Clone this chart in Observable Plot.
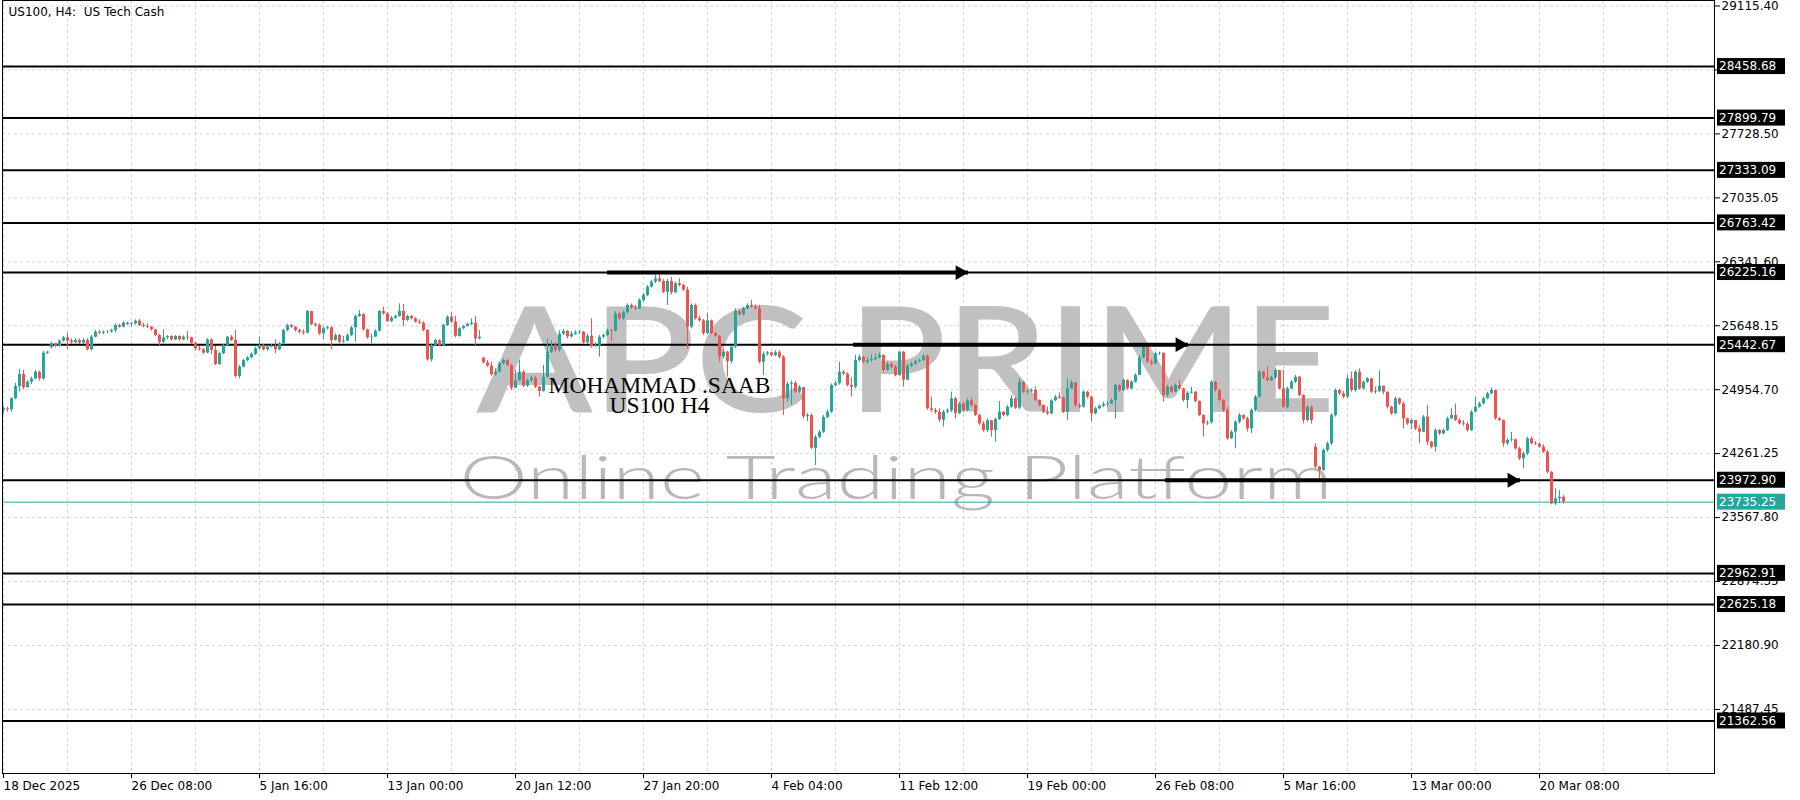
<!DOCTYPE html>
<html><head><meta charset="utf-8">
<script src="https://cdn.jsdelivr.net/npm/d3@7"></script>
<script src="https://cdn.jsdelivr.net/npm/@observablehq/plot@0.6"></script>
<style>
html,body{margin:0;padding:0;background:#fff;}
#chart{width:1800px;height:800px;}
</style></head><body><div id="chart"></div>
<script>
const title = "US100, H4:  US Tech Cash";

// H4 bars, index 0 = 18 Dec 2025 00:00
const closes = [
24747,24736,24856,24989,25120,24975,25036,25072,25145,25072,
25351,25362,25452,25423,25481,25517,25481,25463,25488,25459,
25488,25387,25524,25579,25568,25579,25582,25597,25651,25633,
25676,25662,25669,25698,25651,25640,25633,25604,25542,25470,
25517,25532,25495,25532,25495,25524,25517,25459,25398,25387,
25351,25495,25380,25228,25344,25434,25524,25488,25098,25199,
25271,25300,25337,25398,25434,25387,25416,25423,25387,25452,
25597,25651,25633,25597,25579,25568,25803,25662,25651,25560,
25615,25626,25488,25542,25470,25481,25542,25626,25749,25770,
25604,25517,25524,25590,25803,25777,25694,25730,25749,25803,
25705,25749,25723,25687,25676,25597,25279,25434,25488,25434,
25651,25741,25687,25532,25615,25640,25662,25676,25506,25524,
25246,25210,25116,25145,25235,25271,25217,24971,25051,25145,
24993,25051,25080,24982,24935,25090,25362,25434,25384,25557,
25586,25528,25557,25571,25579,25463,25535,25420,25434,25524,
25542,25593,25586,25774,25723,25788,25868,25843,25832,25922,
25976,26067,26121,26157,26128,26012,26128,26005,26103,26085,
26034,25633,25868,25723,25701,25564,25701,25564,25535,25311,
25362,25260,25416,25803,25767,25832,25868,25850,25832,25253,
25340,25355,25326,25355,25307,24856,25014,25025,24928,24978,
24661,24675,24320,24436,24494,24653,24711,25000,25022,25145,
25123,25000,24982,25271,25307,25253,25271,25282,25297,25326,
25163,25231,25199,25109,25362,25058,25210,25231,25260,25271,
25318,24747,24729,24711,24624,24711,24725,24856,24697,24798,
24729,24834,24783,24675,24584,24512,24617,24512,24632,24711,
24675,24765,24856,24754,25036,24928,24935,24946,24837,24783,
24711,24693,24834,24874,24863,24711,24964,25029,24783,24765,
24928,24874,24693,24747,24776,24794,24801,24837,25000,24946,
25054,24964,25036,25109,25300,25416,25253,25235,25344,25351,
24892,24982,24928,25000,24964,24837,24917,24928,24827,24675,
24584,24595,25036,24946,24837,24729,24422,24494,24603,24675,
24639,24530,24729,24874,25145,25083,25054,25083,25163,24964,
24765,24964,25036,25090,24892,24621,24765,24621,24115,24078,
24295,24368,24675,24946,24910,24874,25072,24946,25145,24964,
25036,25072,24928,24935,24993,24928,24765,24693,24856,24801,
24639,24584,24621,24530,24494,24657,24386,24331,24512,24476,
24512,24639,24675,24621,24584,24577,24512,24711,24765,24801,
24856,24910,24946,24639,24621,24368,24404,24411,24313,24205,
24259,24422,24368,24361,24331,24277,24060,23717,23771,23789,23735.25
];
const highs = [
24772,24765,24867,25025,25174,25163,25054,25090,25163,25156,
25369,25373,25470,25459,25495,25531,25568,25506,25506,25503,
25506,25506,25542,25597,25597,25590,25597,25611,25669,25665,
25694,25687,25683,25712,25720,25676,25669,25640,25611,25553,
25604,25542,25539,25542,25539,25539,25586,25524,25467,25423,
25402,25510,25506,25423,25362,25445,25532,25542,25597,25217,
25285,25315,25351,25416,25524,25445,25431,25445,25495,25467,
25611,25665,25662,25640,25611,25604,25814,25807,25676,25669,
25633,25640,25640,25560,25553,25532,25560,25640,25763,25814,
25777,25611,25553,25604,25814,25850,25792,25749,25763,25886,
25879,25763,25759,25734,25712,25691,25604,25452,25503,25495,
25665,25756,25796,25749,25629,25651,25676,25723,25749,25597,
25307,25271,25253,25181,25253,25289,25282,25231,25163,25271,
25160,25072,25101,25101,24993,25217,25506,25488,25463,25593,
25608,25597,25586,25593,25597,25586,25557,25723,25463,25542,
25557,25615,25608,25803,25796,25810,25886,25883,25868,25940,
25998,26085,26142,26200,26200,26150,26150,26171,26121,26157,
26099,26067,25886,25883,25752,25716,25777,25712,25579,25542,
25391,25369,25434,25832,25814,25850,25886,25922,25875,25868,
25362,25369,25362,25377,25380,25326,25036,25050,25043,25000,
24978,24697,24690,24458,24512,24675,24733,25018,25043,25253,
25163,25138,25080,25326,25333,25318,25304,25333,25340,25351,
25333,25253,25246,25217,25369,25369,25231,25253,25275,25289,
25333,25333,24874,24754,24747,24729,24747,24928,24874,24819,
24812,24856,24863,24790,24693,24610,24639,24624,24646,24827,
24718,24783,24892,24870,25072,25043,24957,24964,24982,24845,
24790,24765,24849,24892,24921,24878,25072,25050,25036,24801,
24942,24935,24885,24765,24790,24819,24827,24856,25018,25007,
25072,25061,25054,25127,25326,25434,25380,25279,25362,25362,
25351,25000,24993,25018,25054,24971,24935,24982,24935,24834,
24682,24617,25054,25043,24957,24848,24765,24512,24621,24693,
24682,24657,24747,24892,25163,25152,25206,25101,25181,25145,
25163,24982,25054,25109,25101,24899,24783,24776,24368,24125,
24313,24386,24693,24964,24957,24935,25109,25145,25163,25181,
25050,25087,25080,24982,25160,24993,24928,24776,24874,24863,
24819,24646,24639,24584,24566,24675,24783,24393,24530,24523,
24530,24657,24747,24801,24639,24621,24603,24729,24874,24819,
24874,24928,24975,24953,24657,24628,24422,24494,24422,24331,
24277,24440,24440,24393,24379,24357,24295,24067,23880,23861,23807
];
const lows = [
24693,24711,24711,24845,24928,24953,24982,25011,25061,25047,
25054,25337,25398,25409,25416,25470,25387,25445,25452,25445,
25445,25373,25373,25517,25550,25550,25564,25568,25568,25622,
25626,25651,25633,25655,25640,25626,25618,25590,25532,25434,
25452,25495,25481,25488,25481,25488,25488,25445,25373,25373,
25337,25344,25337,25217,25217,25337,25423,25474,25083,25072,
25192,25257,25289,25326,25387,25373,25373,25409,25344,25380,
25438,25582,25618,25582,25560,25546,25560,25647,25633,25542,
25495,25604,25387,25481,25452,25459,25474,25532,25470,25741,
25590,25503,25452,25528,25579,25763,25683,25683,25720,25741,
25640,25694,25712,25676,25662,25582,25264,25253,25423,25423,
25423,25640,25676,25517,25524,25604,25633,25651,25434,25495,
25235,25196,25101,25101,25138,25224,25203,24946,24964,25043,
24978,24982,25036,24964,24874,24928,25080,25348,25362,25362,
25542,25506,25513,25542,25550,25448,25448,25405,25413,25307,
25506,25528,25477,25579,25709,25705,25777,25825,25814,25825,
25904,25962,26056,26106,26114,25998,25868,25983,25994,26070,
26020,25398,25615,25709,25687,25542,25550,25550,25521,25253,
25289,25090,25235,25398,25752,25752,25817,25839,25817,25235,
25109,25318,25311,25311,25289,24675,24819,24790,24914,24914,
24639,24610,24306,24133,24422,24480,24639,24697,24986,25004,
25109,24986,24874,24964,25253,25235,25231,25253,25268,25289,
25145,25156,25181,25094,25101,24982,25051,25192,25217,25246,
25260,24733,24711,24689,24603,24548,24693,24704,24639,24682,
24711,24718,24765,24661,24566,24494,24494,24440,24386,24621,
24661,24661,24754,24740,24740,24914,24899,24921,24827,24769,
24697,24675,24682,24827,24849,24697,24621,24957,24765,24747,
24754,24856,24603,24682,24740,24762,24765,24801,24639,24928,
24935,24950,24957,25025,25163,25289,25238,25217,25224,25326,
24819,24874,24914,24921,24950,24819,24747,24906,24812,24661,
24440,24566,24581,24928,24819,24711,24404,24415,24313,24584,
24624,24494,24476,24711,24863,25065,25043,25043,25065,24950,
24754,24747,24950,25022,24878,24584,24603,24584,24096,23988,
24071,24277,24350,24657,24892,24856,24856,24928,24928,24950,
24950,25022,24914,24906,24921,24899,24747,24675,24682,24783,
24530,24566,24523,24512,24368,24487,24350,24313,24277,24458,
24465,24501,24632,24610,24573,24559,24494,24501,24704,24754,
24790,24845,24899,24624,24610,24331,24350,24386,24299,24187,
24096,24241,24357,24350,24321,24263,24042,23706,23699,23717,23713
];
const firstOpen = 24729;
// opens after a market gap (bar index, open)
const gapOpens = [[12, 25409], [120, 25297], [328, 24331]];

const dateTicks = [0, 32, 64, 96, 128, 160, 192, 224, 256, 288, 320, 352, 384];
const dateLabels = ["18 Dec 2025", "26 Dec 08:00", "5 Jan 16:00", "13 Jan 00:00", "20 Jan 12:00", "27 Jan 20:00",
  "4 Feb 04:00", "11 Feb 12:00", "19 Feb 00:00", "26 Feb 08:00", "5 Mar 16:00", "13 Mar 00:00", "20 Mar 08:00"];
const priceTicks = [29115.40, 28421.95, 27728.50, 27035.05, 26341.60, 25648.15, 24954.70, 24261.25,
  23567.80, 22874.35, 22180.90, 21487.45];
const levels = [28458.68, 27899.79, 27333.09, 26763.42, 26225.16, 25442.67, 23972.90, 22962.91, 22625.18, 21362.56];
const lastPrice = 23735.25;

// drawn arrows: start bar, end bar, price level
const arrowFrom = [151, 212.5, 290.5];
const arrowTo = [241.25, 296.25, 379.25];
const arrowPrice = [26225.16, 25442.67, 23972.90];

const signatureText = "MOHAMMAD .SAAB\nUS100 H4";
const watermarkWords = ["APC", "PRIME"];
const watermarkSub = "Online Trading Platform";

// ---- build
const UP = "#26a69a", DOWN = "#ef5350";
const gapMap = new Map(gapOpens);
const bars = closes.map((c, i) => {
  const o = i === 0 ? firstOpen : (gapMap.has(i) ? gapMap.get(i) : closes[i - 1]);
  return {i, o, c, h: Math.max(highs[i], o, c), l: Math.min(lows[i], o, c), col: c >= o ? UP : DOWN};
});
const arrows = arrowFrom.map((f, k) => ({from: f, to: arrowTo[k], price: arrowPrice[k]}));

// annotation anchors (data space)
const wm = [
  {text: watermarkWords[0], bar: 159.6, price: 25215, len: 331},
  {text: watermarkWords[1], bar: 272.1, price: 25215, len: 487}
];
const wmSub = [{text: watermarkSub, bar: 223.1, price: 23985, len: 873}];
const sig = [{text: signatureText, bar: 164, price: 24880}];

const plot = Plot.plot({
  width: 1800, height: 800,
  marginTop: 0, marginBottom: 27, marginLeft: 2, marginRight: 86,
  x: {domain: [-0.25, 427.75]},
  y: {domain: [20793, 29175]},
  color: {type: "identity"},
  style: {fontFamily: "DejaVu Sans", fontSize: "12px", background: "#ffffff", color: "#000000"},
  marks: [
    Plot.gridX(d3.range(0, 428, 16), {stroke: "#d4d4d4", strokeOpacity: 1, strokeDasharray: "3,3"}),
    Plot.gridY(priceTicks, {stroke: "#d4d4d4", strokeOpacity: 1, strokeDasharray: "3,3"}),
    Plot.text(wm, {x: "bar", y: "price", text: "text", fill: "#c0c0c0", fontSize: 146, fontFamily: "Lato",
      fontWeight: 600, textAnchor: "middle", lineAnchor: "middle", className: "wm-big"}),
    Plot.text(wmSub, {x: "bar", y: "price", text: "text", fill: "#b8b8b8", fontSize: 62, fontFamily: "Lato",
      fontWeight: 300, textAnchor: "middle", lineAnchor: "middle", className: "wm-sub"}),
    Plot.ruleY(levels, {stroke: "#000", strokeWidth: 2}),
    Plot.ruleY([lastPrice], {stroke: UP, strokeWidth: 1}),
    Plot.ruleX(bars, {x: "i", y1: "l", y2: "h", stroke: "col", strokeWidth: 1}),
    Plot.ruleX(bars, {x: "i", y1: "o", y2: "c", stroke: "col", strokeWidth: 3}),
    Plot.ruleY(arrows, {y: "price", x1: "from", x2: "to", stroke: "#000", strokeWidth: 4}),
    Plot.dot(arrows, {x: "to", y: "price", symbol: "triangle", r: 5.5, rotate: 90, fill: "#000", stroke: null, dx: -8.6}),
    Plot.text(sig, {x: "bar", y: "price", text: "text", fontFamily: "Liberation Serif", fontSize: 23.5,
      lineHeight: 0.87, fill: "#000", textAnchor: "middle", lineAnchor: "middle"}),
    Plot.text([title], {frameAnchor: "top-left", dx: 6, dy: 7, lineAnchor: "top", textAnchor: "start", fontSize: 12}),
    Plot.axisY(priceTicks, {anchor: "right", tickFormat: d => d.toFixed(2), tickSize: 5, tickPadding: 2, fontSize: 12, label: null}),
    Plot.axisX(dateTicks, {anchor: "bottom", tickFormat: d => dateLabels[dateTicks.indexOf(d)], textAnchor: "start",
      tickSize: 5, tickPadding: 3, fontSize: 12, label: null}),
    Plot.frame({stroke: "#000"})
  ]
});

// watermark sizing
d3.select(plot).selectAll("g.wm-big text").each(function(d, j) {
  this.setAttribute("textLength", wm[j].len); this.setAttribute("lengthAdjust", "spacingAndGlyphs");
});
d3.select(plot).selectAll("g.wm-sub text").each(function(d, j) {
  this.setAttribute("textLength", wmSub[j].len); this.setAttribute("lengthAdjust", "spacingAndGlyphs");
});

// price label boxes on the right axis
const ys = plot.scale("y"), xs = plot.scale("x");
const axisX0 = xs.range[1];
const gBox = d3.select(plot).append("g").attr("font-family", "DejaVu Sans").attr("font-size", 12)
  .attr("text-anchor", "start");
const boxes = levels.map(v => ({v, fill: "#000"})).concat([{v: lastPrice, fill: UP}]);
for (const b of boxes) {
  const yy = ys.apply(b.v);
  gBox.append("rect").attr("x", axisX0 + 3).attr("y", yy - 8).attr("width", 68).attr("height", 16).attr("fill", b.fill);
  gBox.append("text").attr("x", axisX0 + 5).attr("y", yy).attr("dy", "0.36em").attr("text-anchor", "start")
    .attr("fill", "#fff").text(b.v.toFixed(2));
}

document.getElementById("chart").appendChild(plot);
</script>
</body></html>
